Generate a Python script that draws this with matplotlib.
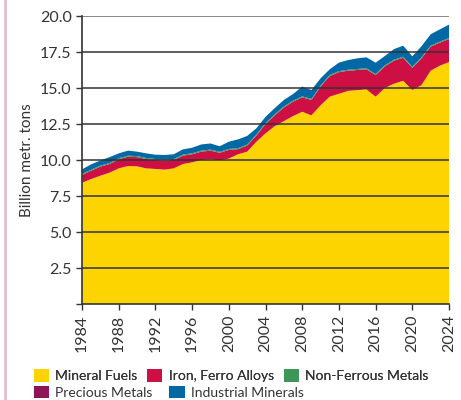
import numpy as np
import matplotlib.pyplot as plt
from matplotlib.patches import Patch
from matplotlib.lines import Line2D

plt.rcParams['font.family'] = ['Lato', 'DejaVu Sans']

years = np.arange(1984, 2025)

# Oberkanten der gestapelten Flächen
fuels_top = [8.42, 8.68, 8.91, 9.12, 9.42, 9.58, 9.56, 9.42, 9.38, 9.33,
             9.42, 9.72, 9.84, 10.0, 10.05, 9.98, 10.1, 10.4, 10.58, 11.27,
             11.85, 12.35, 12.7, 13.05, 13.35, 13.1, 13.8, 14.4, 14.6, 14.8,
             14.85, 14.9, 14.4, 15.0, 15.3, 15.5, 14.86, 15.2, 16.2, 16.55, 16.8]
iron_top = [8.96, 9.26, 9.54, 9.72, 10.05, 10.23, 10.2, 10.07, 10.0, 9.95,
            10.0, 10.3, 10.4, 10.58, 10.65, 10.5, 10.7, 10.75, 11.0, 11.7,
            12.5, 13.1, 13.65, 14.05, 14.35, 14.17, 15.1, 15.83, 16.1, 16.2,
            16.25, 16.3, 15.9, 16.5, 16.9, 17.1, 16.4, 17.06, 17.87, 18.15, 18.4]
total_top = [9.35, 9.7, 9.97, 10.2, 10.46, 10.65, 10.58, 10.46, 10.37, 10.35,
             10.4, 10.74, 10.85, 11.08, 11.15, 10.95, 11.27, 11.43, 11.67, 12.2,
             13.0, 13.6, 14.17, 14.58, 15.1, 14.86, 15.67, 16.3, 16.76, 16.94,
             17.06, 17.13, 16.76, 17.22, 17.7, 17.94, 17.2, 17.9, 18.73, 19.07, 19.4]

fuels = np.array(fuels_top)
iron = np.array(iron_top) - fuels
nonferrous = np.full(len(years), 0.07)
precious = np.full(len(years), 0.001)
industrial = np.array(total_top) - np.array(iron_top) - nonferrous - precious

labels = ['Mineral Fuels', 'Iron, Ferro Alloys', 'Non-Ferrous Metals',
          'Precious Metals', 'Industrial Minerals']
colors = ['#FDD300', '#CD0F44', '#3E9659', '#8C1457', '#0068A5']

fig = plt.figure(figsize=(4.61, 4.0), dpi=100)
ax = fig.add_axes([0.178, 0.24, 0.796, 0.72])

ax.stackplot(years, fuels, iron, nonferrous, precious, industrial,
             colors=colors, linewidth=0)

ax.set_xlim(1984, 2024)
ax.set_ylim(0, 20)
yt = np.arange(0, 20.1, 2.5)
ax.set_yticks(yt)
ax.set_yticklabels([''] + ['%.1f' % v for v in yt[1:]])
ax.set_xticks(np.arange(1984, 2025, 4))
ax.tick_params(axis='x', labelrotation=90)
ax.tick_params(labelsize=11.5, colors='#333333', length=4, width=1)

for v in yt[1:]:
    ax.axhline(v, color='#333333' if v < 20 else '#666666', lw=1.1, zorder=5)

for s in ['top', 'right']:
    ax.spines[s].set_visible(False)
for s in ['left', 'bottom']:
    ax.spines[s].set_color('#333333')
    ax.spines[s].set_linewidth(1.2)
    ax.spines[s].set_zorder(6)

ax.set_ylabel('Billion metr. tons', fontsize=11, color='#333333', labelpad=4)

# rosa Randlinie links
fig.add_artist(Line2D([0.01, 0.01], [0, 1], color='#E2BFCF', lw=2,
                      transform=fig.transFigure))

h = [Patch(facecolor=c) for c in colors]
opts = dict(loc='upper left', frameon=False, fontsize=10, handlelength=1.1,
            handleheight=1.0, handletextpad=0.45,
            borderaxespad=0, borderpad=0, labelcolor='#333333')
leg1 = fig.legend(h[:3], labels[:3], bbox_to_anchor=(0.073, 0.077), ncol=3,
                  columnspacing=0.7, **opts)
fig.legend(h[3:], labels[3:], bbox_to_anchor=(0.073, 0.036), ncol=2,
           columnspacing=1.2, **opts)
fig.add_artist(leg1)

fig.savefig('out.png', dpi=100)
